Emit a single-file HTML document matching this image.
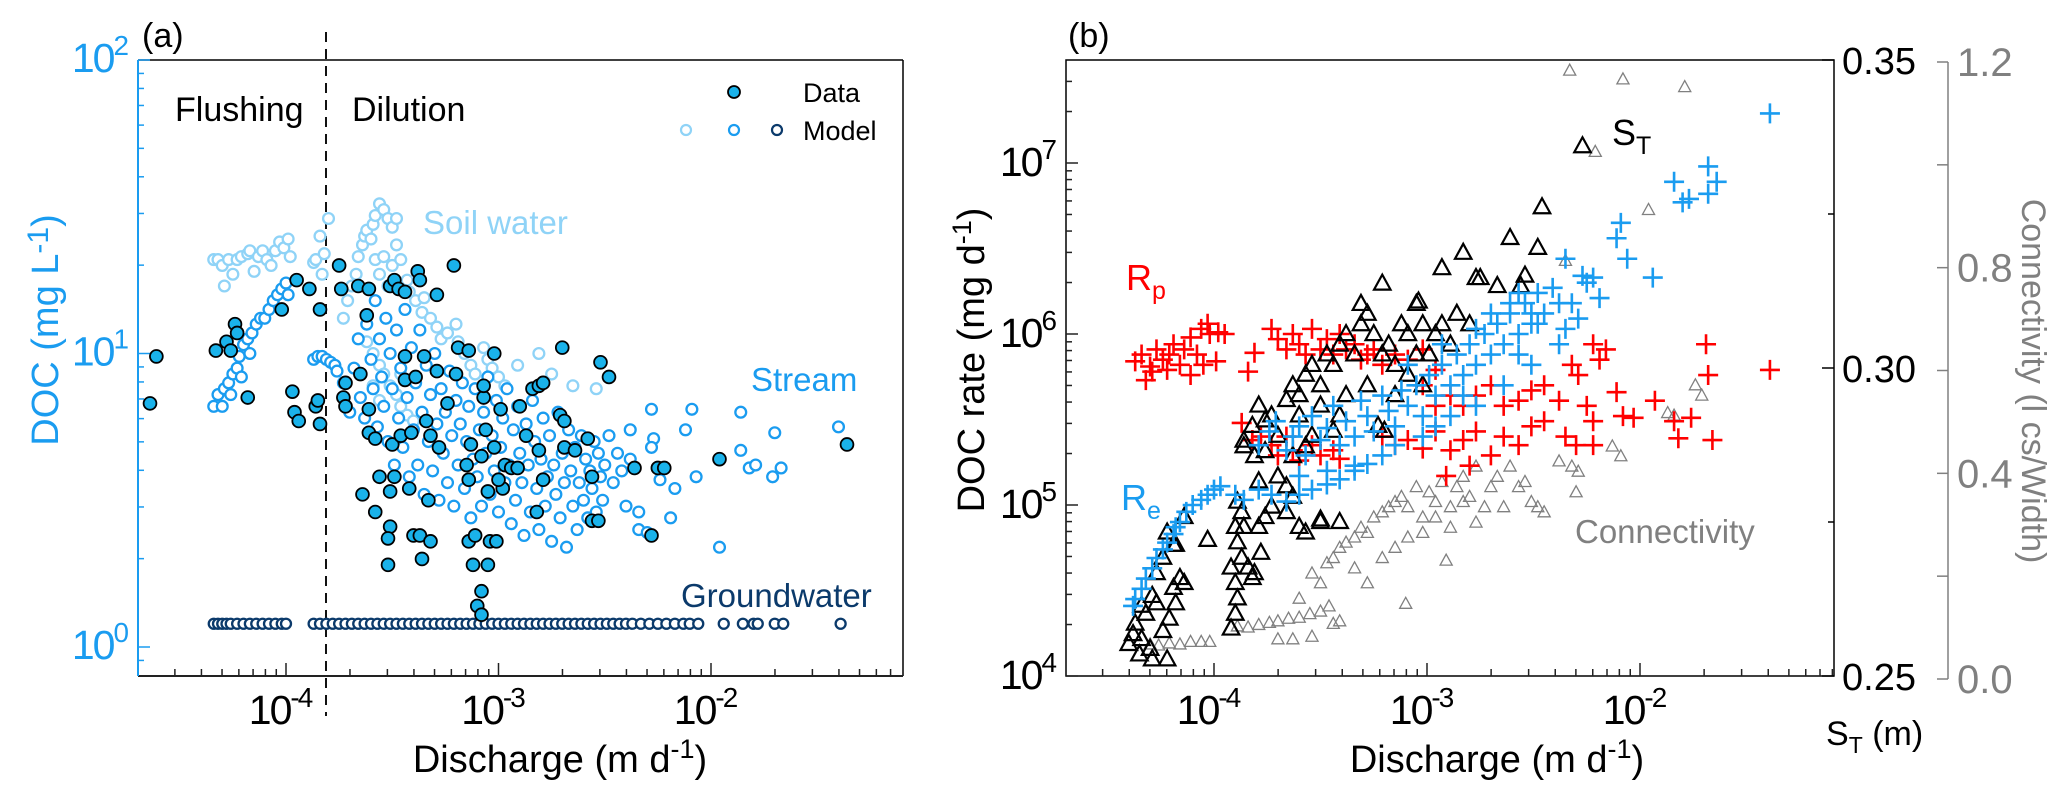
<!DOCTYPE html>
<html><head><meta charset="utf-8">
<style>
html,body{margin:0;padding:0;background:#fff;}
svg{display:block;font-family:"Liberation Sans",Arial,sans-serif;}
</style></head>
<body>
<svg id="fig" width="2067" height="795" viewBox="0 0 2067 795" xmlns="http://www.w3.org/2000/svg">
<g id="panelA"></g>
<g id="panelB"></g>
</svg>
<script>
// ---------- Panel (a) data (log10 discharge m/d, log10 DOC mg/L) ----------
const dataLogQ=[-4.64,-4.61,-4.33,-4.28,-4.26,-4.24,-4.23,-4.18,-4.02,-3.97,-3.96,-3.94,-3.95,-3.89,-3.86,-3.85,-3.84,-3.84,-3.75,-3.74,-3.72,-3.73,-3.72,-3.66,-3.65,-3.62,-3.61,-3.61,-3.61,-3.58,-3.64,-3.58,-3.56,-3.50,-3.49,-3.51,-3.51,-3.52,-3.52,-3.51,-3.49,-3.47,-3.44,-3.44,-3.44,-3.46,-3.42,-3.40,-3.37,-3.36,-3.32,-3.41,-3.39,-3.38,-3.37,-3.35,-3.34,-3.33,-3.32,-3.29,-3.29,-3.28,-3.24,-3.21,-3.20,-3.19,-3.15,-3.14,-3.13,-3.14,-3.14,-3.11,-3.12,-3.05,-3.08,-3.10,-3.08,-3.07,-3.07,-3.08,-3.06,-3.04,-3.01,-3.05,-3.02,-3.02,-2.99,-2.98,-3.00,-2.97,-2.94,-2.91,-2.90,-2.87,-2.84,-2.81,-2.81,-2.79,-2.82,-2.79,-2.71,-2.69,-2.70,-2.69,-2.64,-2.58,-2.56,-2.53,-2.52,-2.48,-2.56,-2.36,-2.25,-2.22,-2.28,-1.96,-1.36];
const dataLogDOC=[0.83,0.99,1.01,1.04,1.01,1.10,1.07,0.85,1.15,0.87,0.80,0.77,1.25,1.22,0.82,0.84,1.15,0.76,1.30,1.22,0.90,0.85,0.82,1.23,0.93,1.13,1.22,0.81,0.73,0.71,0.52,0.46,0.58,0.69,0.58,0.53,0.41,0.37,0.28,1.23,1.25,1.22,1.21,0.91,0.99,0.72,0.54,0.38,0.38,0.30,0.36,0.73,0.92,1.28,1.25,0.99,0.77,0.50,0.72,1.20,0.94,0.68,0.83,1.30,0.93,1.02,0.62,0.57,0.69,1.01,0.36,0.38,0.28,0.28,0.19,0.14,0.11,0.85,0.89,0.65,0.74,0.36,0.36,0.53,0.68,1.00,0.81,0.54,0.57,0.62,0.61,0.61,0.82,0.72,0.88,0.67,0.89,0.90,0.46,0.57,0.79,0.77,1.02,0.68,0.67,0.71,0.43,0.43,0.97,0.92,0.58,0.61,0.61,0.61,0.38,0.64,0.69];
const soilLogQ=[-4.34,-4.32,-4.30,-4.29,-4.27,-4.25,-4.23,-4.21,-4.18,-4.17,-4.15,-4.13,-4.11,-4.09,-4.07,-4.05,-4.03,-4.01,-3.99,-3.98,-3.87,-3.86,-3.84,-3.83,-3.82,-3.80,-3.73,-3.71,-3.69,-3.67,-3.66,-3.64,-3.63,-3.62,-3.60,-3.59,-3.58,-3.56,-3.54,-3.52,-3.50,-3.48,-3.58,-3.56,-3.54,-3.52,-3.50,-3.48,-3.46,-3.43,-3.42,-3.39,-3.36,-3.35,-3.32,-3.29,-3.27,-3.24,-3.20,-3.19,-3.16,-3.13,-3.11,-3.07,-3.05,-3.03,-3.00,-2.97,-3.62,-3.59,-3.56,-3.54,-3.51,-3.48,-3.46,-3.43,-3.40,-3.59,-3.56,-3.46,-2.91,-2.75,-2.65,-2.54,-2.81];
const soilLogDOC=[1.32,1.32,1.30,1.23,1.32,1.27,1.32,1.33,1.34,1.35,1.28,1.33,1.35,1.32,1.30,1.35,1.38,1.36,1.39,1.33,1.31,1.32,1.40,1.27,1.34,1.46,1.12,1.18,1.23,1.27,1.33,1.37,1.40,1.42,1.39,1.44,1.47,1.51,1.49,1.46,1.43,1.46,1.32,1.27,1.33,1.23,1.30,1.37,1.32,1.25,1.21,1.18,1.14,1.19,1.12,1.09,1.05,1.07,1.10,1.04,1.00,0.96,0.93,1.02,0.98,0.95,0.92,0.89,1.04,1.00,0.96,0.93,0.89,0.86,0.82,0.79,0.77,0.89,0.84,0.93,0.96,0.93,0.89,0.88,1.00];
const streamLogQ=[-4.34,-4.32,-4.30,-4.29,-4.27,-4.25,-4.23,-4.22,-4.20,-4.18,-4.16,-4.14,-4.12,-4.10,-4.08,-4.06,-4.04,-4.02,-4.00,-3.99,-4.26,-4.21,-4.17,-3.87,-3.85,-3.83,-3.81,-3.79,-3.77,-3.76,
-3.73,-3.70,-3.68,-3.66,-3.65,-3.63,-3.62,-3.60,-3.59,-3.58,-3.57,-3.56,-3.55,-3.54,-3.53,-3.52,-3.51,-3.50,-3.49,-3.48,-3.47,-3.46,-3.45,-3.44,-3.43,-3.42,-3.41,-3.40,-3.39,-3.38,-3.37,-3.36,-3.35,-3.34,-3.33,-3.32,-3.31,-3.30,-3.29,-3.28,-3.27,-3.26,-3.25,-3.24,-3.23,-3.22,-3.21,-3.20,-3.19,-3.18,-3.17,-3.16,-3.15,-3.14,-3.13,-3.12,-3.11,-3.10,-3.09,-3.08,-3.07,-3.06,-3.05,-3.04,-3.03,-3.02,-3.01,-3.00,-2.99,-2.98,-2.97,-2.96,-2.95,-2.94,-2.93,-2.92,-2.91,-2.90,-2.89,-2.88,-2.87,-2.86,-2.85,-2.84,-2.83,-2.82,-2.81,-2.80,-2.79,-2.78,-2.77,-2.76,-2.75,-2.74,-2.73,-2.72,-2.71,-2.70,-2.69,-2.68,-2.67,-2.66,-2.65,-2.64,-2.63,-2.62,-2.61,-2.60,-2.59,-2.58,-2.57,-2.56,-2.55,-2.54,-2.53,-2.52,-2.51,-2.50,-2.48,-2.46,-2.44,-2.42,-2.40,-2.38,
-2.38,-2.28,-2.27,-2.28,-2.34,-2.34,-2.30,-2.24,-2.19,-2.17,-2.12,-2.09,-2.07,-1.96,-1.86,-1.86,-1.82,-1.79,-1.70,-1.71,-1.67,-1.40];
const streamLogDOC=[0.82,0.86,0.82,0.88,0.90,0.93,0.95,0.99,1.03,1.05,1.07,1.10,1.12,1.12,1.15,1.18,1.20,1.22,1.24,1.20,0.86,0.92,1.00,0.98,0.99,0.99,0.98,0.97,0.96,0.94,
0.90,0.80,0.95,1.05,0.85,0.78,1.10,0.98,0.88,1.18,0.75,1.05,0.92,0.82,1.12,0.70,1.00,0.88,0.62,1.08,0.78,0.95,0.68,1.15,0.85,0.58,1.02,0.74,0.90,0.62,1.08,0.80,0.52,0.96,0.70,0.86,0.60,1.00,0.76,0.50,0.88,0.66,0.80,0.56,0.94,0.72,0.48,0.84,0.62,0.76,0.90,0.54,0.70,0.82,0.44,0.64,0.88,0.58,0.74,0.48,0.80,0.66,0.92,0.52,0.72,0.60,0.84,0.46,0.68,0.78,0.56,0.88,0.62,0.42,0.74,0.50,0.82,0.66,0.56,0.38,0.76,0.62,0.46,0.84,0.70,0.54,0.40,0.64,0.78,0.48,0.58,0.72,0.36,0.62,0.52,0.80,0.44,0.66,0.56,0.34,0.74,0.60,0.48,0.68,0.40,0.56,0.72,0.50,0.64,0.44,0.60,0.54,0.70,0.46,0.66,0.58,0.50,0.62,0.72,0.56,0.66,0.60,0.48,0.64,
0.74,0.81,0.71,0.68,0.46,0.40,0.39,0.57,0.44,0.54,0.74,0.81,0.58,0.34,0.67,0.80,0.61,0.62,0.73,0.58,0.61,0.75];
const gwLogQ=[-4.34,-4.32,-4.30,-4.28,-4.26,-4.23,-4.20,-4.17,-4.14,-4.11,-4.08,-4.05,-4.02,-4.00,-3.87,-3.84,-3.81,-3.78,-3.75,-3.72,-3.69,-3.66,-3.63,-3.60,-3.57,-3.54,-3.51,-3.48,-3.45,-3.42,-3.39,-3.36,-3.33,-3.30,-3.27,-3.24,-3.21,-3.18,-3.15,-3.12,-3.09,-3.06,-3.03,-3.00,-2.97,-2.94,-2.91,-2.88,-2.85,-2.82,-2.79,-2.76,-2.73,-2.70,-2.67,-2.64,-2.61,-2.58,-2.55,-2.52,-2.49,-2.46,-2.43,-2.40,-2.37,-2.33,-2.29,-2.25,-2.21,-2.17,-2.13,-2.10,-2.06,-1.94,-1.85,-1.80,-1.78,-1.70,-1.66,-1.39];
const gwDOC=[1.2];
const aXTicks=[-4,-3,-2];
const aXTickLabels=["-4","-3","-2"];
const aYTicks=[0,1,2];
const aYTickLabels=["0","1","2"];

// ---------- Panel (b) data ----------
const reLogQ=[-4.38,-4.37,-4.34,-4.32,-4.29,-4.27,-4.24,-4.22,-4.19,-4.18,-4.16,-4.13,-4.10,-4.06,-4.03,-4.00,-3.97,-3.90,-3.86,-3.79,-3.73,-3.66,-3.60,-3.54,-3.47,-3.41,-3.34,-3.28,
-3.79,-3.74,-3.71,-3.66,-3.63,-3.60,-3.57,-3.54,-3.50,-3.47,-3.44,-3.41,-3.38,-3.34,-3.31,-3.28,-3.25,-3.21,-3.18,-3.15,-3.12,-3.09,-3.05,-3.02,-2.99,-2.96,-2.93,-2.89,-2.86,-2.83,-2.80,-2.77,-2.73,-2.70,-2.67,-2.64,-2.61,-2.57,-2.54,-2.51,-2.48,-2.45,-2.41,-2.38,-3.15,-3.02,-2.89,-2.77,-2.64,-2.51,-2.38,-3.09,-2.93,-2.77,-2.61,-3.21,-3.34,-3.47,-3.60,-2.70,-2.57,-2.96,-2.83,
-2.35,-2.32,-2.27,-2.25,-2.22,-2.19,-2.11,-2.06,-2.09,-1.94,-1.84,-1.80,-1.77,-1.68,-1.64,-1.68,-1.39,-2.35,-2.29,-2.51,-2.48,-2.57];
const reLogRate=[4.41,4.45,4.51,4.57,4.63,4.69,4.74,4.78,4.83,4.87,4.90,4.96,5.00,5.03,5.06,5.09,5.11,5.06,5.03,5.09,5.06,5.02,5.06,5.09,5.12,5.15,5.20,5.24,
5.35,5.43,5.49,5.32,5.40,5.46,5.29,5.52,5.38,5.45,5.58,5.35,5.49,5.40,5.61,5.52,5.43,5.64,5.55,5.46,5.67,5.58,5.70,5.52,5.76,5.64,5.82,5.70,5.88,5.76,5.94,5.82,6.00,5.88,6.06,5.94,6.12,6.00,6.18,6.06,6.24,6.12,6.27,6.18,5.35,5.40,5.52,5.58,5.70,5.82,5.94,5.82,5.94,6.03,6.18,5.29,5.23,5.20,5.17,6.12,5.88,5.46,5.64,
6.44,6.18,6.34,6.30,6.33,6.21,6.56,6.44,6.65,6.33,6.89,6.77,6.79,6.98,6.89,6.82,7.29,6.03,6.09,6.12,6.06,6.24];
const rpLogQ=[-4.37,-4.34,-4.30,-4.32,-4.27,-4.24,-4.21,-4.19,-4.16,-4.14,-4.11,-4.08,-4.05,-4.06,-4.03,-4.02,-3.98,-3.95,-3.99,-4.11,-4.29,-4.22,-3.81,-3.84,
-3.73,-3.70,-3.66,-3.63,-3.60,-3.57,-3.54,-3.50,-3.47,-3.44,-3.41,-3.38,-3.34,-3.31,-3.28,-3.25,-3.21,-3.15,-3.09,-3.02,-2.96,
-3.87,-3.82,-3.78,-3.73,-3.70,-3.66,-3.63,-3.60,-3.54,-3.50,-3.44,-3.41,
-3.21,-3.15,-3.09,-3.02,-2.96,-2.89,-2.83,-2.77,-2.70,-2.64,-2.57,-2.51,-2.77,-2.70,-2.64,-2.57,-2.51,-2.45,-2.96,-2.89,-2.83,-3.02,-2.80,-2.91,-2.45,-2.38,-2.32,-2.29,-2.35,-2.30,-2.22,-2.19,-2.16,-2.11,-2.08,-2.03,-1.93,-1.84,-1.76,-1.82,-1.66,-1.69,-1.68,-1.39,-2.22,-2.25,-2.22];
const rpLogRate=[5.84,5.88,5.81,5.73,5.91,5.85,5.88,5.94,5.82,5.91,5.98,5.88,5.82,6.03,6.06,6.00,6.01,6.00,5.84,5.76,5.78,5.79,5.89,5.78,
6.03,5.97,5.91,6.00,5.94,5.88,6.03,5.91,5.97,5.88,6.00,5.91,5.94,5.85,5.88,5.91,5.82,5.88,5.85,5.91,5.79,
5.48,5.38,5.40,5.35,5.29,5.40,5.32,5.26,5.35,5.29,5.32,5.27,
5.40,5.35,5.38,5.33,5.43,5.32,5.38,5.43,5.29,5.40,5.35,5.46,5.64,5.70,5.58,5.61,5.67,5.70,5.58,5.64,5.58,5.70,5.23,5.17,5.49,5.61,5.82,5.76,5.40,5.35,5.94,5.85,5.91,5.66,5.52,5.51,5.61,5.49,5.51,5.39,5.38,5.94,5.76,5.79,5.35,5.58,5.49];
const stLogQ=[-4.40,-4.38,-4.37,-4.35,-4.34,-4.32,-4.30,-4.29,-4.27,-4.24,-4.22,-4.21,-4.19,-4.18,-4.16,-4.14,-4.19,-4.18,-4.14,-4.22,-4.24,-4.27,-4.29,-4.34,-4.03,
-3.92,-3.90,-3.89,-3.90,-3.92,-3.87,-3.89,-3.90,-3.86,-3.89,-3.87,-3.84,-3.82,-3.81,-3.78,-3.79,-3.76,
-3.70,-3.66,-3.63,-3.60,-3.57,-3.66,-3.73,-3.50,-3.79,-3.86,-3.82,-3.79,-3.76,-3.73,-3.70,-3.66,-3.63,-3.60,-3.57,-3.54,-3.50,-3.47,-3.44,-3.41,-3.38,-3.34,-3.31,-3.28,-3.25,-3.21,-3.18,-3.15,-3.12,-3.09,-3.05,-3.02,-2.99,-2.96,-2.93,-2.89,-2.86,-3.31,-3.21,-3.05,-3.04,-2.93,-2.83,-2.77,-2.75,-2.67,-2.61,-2.56,-2.54,-2.48,-2.46,-2.80,-3.50,-3.44,-3.38,-3.60,-3.54,-3.41,-3.28,-3.15,-3.09,-3.02,-3.41,-3.50,-3.23,-3.20,-3.63,-3.57,-3.76,-3.86,-3.81,-2.27];
const stDepth=[0.2552,0.2568,0.2585,0.2535,0.2560,0.2601,0.2544,0.2527,0.2618,0.2573,0.2527,0.2593,0.2643,0.2618,0.2659,0.2651,0.2713,0.2713,0.2758,0.2733,0.2692,0.2667,0.2630,0.2614,0.2721,
0.2577,0.2601,0.2626,0.2651,0.2676,0.2692,0.2717,0.2742,0.2742,0.2783,0.2766,0.2676,0.2659,0.2667,0.2700,0.2742,0.2758,
0.2824,0.2808,0.2791,0.2742,0.2733,0.2766,0.2775,0.2754,0.2816,0.2873,0.2906,0.2939,0.2915,0.2923,0.2890,0.2948,0.2972,0.2956,0.2989,0.3005,0.2972,0.3022,0.3005,0.3038,0.3055,0.3022,0.3071,0.3088,0.3055,0.3022,0.3038,0.3005,0.3071,0.3055,0.3022,0.3071,0.3022,0.3055,0.3071,0.3038,0.3088,0.3104,0.3137,0.3104,0.3108,0.3162,0.3187,0.3146,0.3146,0.3133,0.3211,0.3133,0.3150,0.3195,0.3261,0.3071,0.2939,0.2898,0.2956,0.2923,0.2890,0.2923,0.2972,0.2956,0.2989,0.2972,0.2750,0.2750,0.2906,0.2898,0.2857,0.2873,0.2865,0.2882,0.2857,0.3360];
const connLogQ=[-4.30,-4.26,-4.21,-4.16,-4.11,-4.06,-4.02,-3.89,-3.84,-3.79,-3.74,-3.70,-3.65,-3.60,-3.55,-3.50,-3.46,-3.41,-3.44,-3.63,-3.54,-3.70,
-3.60,-3.54,-3.50,-3.47,-3.44,-3.41,-3.38,-3.34,-3.31,-3.28,-3.25,-3.21,-3.18,-3.15,-3.12,-3.09,-3.05,-3.02,-2.99,-2.96,-2.93,-2.89,-2.86,-2.83,-2.80,-2.77,-2.73,-2.70,-2.67,-2.64,-2.61,-2.57,-2.54,-2.51,-2.48,-2.45,-3.34,-3.28,-3.21,-3.15,-3.09,-3.02,-2.96,-2.89,-2.83,-3.10,-2.91,-2.77,-2.38,-2.32,-2.29,-2.30,-2.13,-2.09,-2.35,-1.96,-1.74,-1.71,-1.87,-1.84,-2.33,-2.08,-1.79,-2.21];
const connValue=[0.067,0.065,0.069,0.067,0.072,0.072,0.072,0.102,0.100,0.105,0.109,0.112,0.117,0.119,0.126,0.131,0.141,0.112,0.107,0.077,0.082,0.077,
0.156,0.205,0.186,0.225,0.235,0.255,0.265,0.275,0.294,0.284,0.314,0.324,0.334,0.344,0.354,0.334,0.373,0.314,0.363,0.344,0.383,0.294,0.373,0.393,0.354,0.413,0.334,0.373,0.393,0.334,0.413,0.373,0.383,0.344,0.334,0.324,0.215,0.186,0.235,0.255,0.275,0.284,0.314,0.334,0.344,0.146,0.230,0.304,0.423,0.413,0.403,0.363,0.452,0.433,0.813,0.912,0.571,0.551,0.517,0.512,1.183,1.166,1.151,1.025];
const bXTicks=[-4,-3,-2];
const bXTickLabels=["-4","-3","-2"];
const bYTicks=[4,5,6,7];
const bYTickLabels=["4","5","6","7"];
const stTicks=[0.25,0.30,0.35];
const stTickLabels=["0.25","0.30","0.35"];
const connTicks=[0,0.4,0.8,1.2];
const connTickLabels=["0.0","0.4","0.8","1.2"];

// ---------- drawing ----------
const NS="http://www.w3.org/2000/svg";
const BLUE="#1a9cf0", LIGHT="#8fd3f7", NAVY="#0b3a6b", FILLD="#1ab2ea", GRAY="#808080";
function mk(parent,tag,attrs,name,inter){
  const el=document.createElementNS(NS,tag);
  for(const k in attrs) el.setAttribute(k,attrs[k]);
  
  
  parent.appendChild(el);
  return el;
}
function txt(parent,x,y,str,size,color,name,anchor,extra){
  const t=mk(parent,'text',Object.assign({x:x,y:y,'font-size':size,fill:color,'text-anchor':anchor||'start'},extra||{}),name,false);
  t.textContent=str;return t;
}
function pow10(parent,x,y,exp,size,color,name,anchor){
  const t=mk(parent,'text',{x:x,y:y,'font-size':size,fill:color,'text-anchor':anchor||'middle','letter-spacing':'-2'},name,false);
  const a=document.createElementNS(NS,'tspan');a.textContent='10';t.appendChild(a);
  const b=document.createElementNS(NS,'tspan');b.setAttribute('dy',-size*0.42);b.setAttribute('font-size',size*0.68);b.textContent=exp;t.appendChild(b);
  return t;
}
function withSup(t,main,sup,tail,dy,supSize){
  const a=document.createElementNS(NS,'tspan');a.textContent=main;t.appendChild(a);
  const b=document.createElementNS(NS,'tspan');b.setAttribute('dy',-dy);b.setAttribute('font-size',supSize);b.textContent=sup;t.appendChild(b);
  const c=document.createElementNS(NS,'tspan');c.setAttribute('dy',dy);c.textContent=tail;t.appendChild(c);
}

// ---- Panel A ----
const A=document.getElementById('panelA');
const aL=138,aR=903,aT=60,aB=676;
const ax=l=>286+(l+4)*212.5;
const ay=l=>647-l*293.5;
mk(A,'line',{x1:aL,y1:aT,x2:aR,y2:aT,stroke:'#000','stroke-width':1.5},'top-spine-a',false);
mk(A,'line',{x1:aR,y1:aT,x2:aR,y2:aB,stroke:'#000','stroke-width':1.5},'right-spine-a',false);
mk(A,'line',{x1:aL,y1:aB,x2:aR,y2:aB,stroke:'#222','stroke-width':2},'x-axis-a',false);
mk(A,'line',{x1:aL,y1:aT,x2:aL,y2:aB,stroke:BLUE,'stroke-width':2},'y-axis-a',false);
for(let d=-5;d<=-1;d++){for(let m=1;m<=9;m++){const l=d+Math.log10(m);const x=ax(l);if(x<=aL+2||x>=aR-1)continue;
  mk(A,'line',{x1:x,y1:aB,x2:x,y2:aB-(m===1?13:7),stroke:'#222','stroke-width':1.5},m===1?'x-major-tick-a':'x-minor-tick-a',false);}}
aXTicks.forEach((t,i)=>pow10(A,ax(t)-6,724,aXTickLabels[i],41,'#000','x-tick-label-a'));
for(let d=-1;d<=2;d++){for(let m=1;m<=9;m++){const l=d+Math.log10(m);const y=ay(l);if(y<aT-1||y>aB-2)continue;
  mk(A,'line',{x1:aL,y1:y,x2:aL+(m===1?12:6),y2:y,stroke:BLUE,'stroke-width':1.5},m===1?'y-major-tick-a':'y-minor-tick-a',false);}}
aYTicks.forEach((t,i)=>pow10(A,127,ay(t)+12,aYTickLabels[i],41,BLUE,'y-tick-label-a','end'));
const yt=txt(A,0,0,'',38,BLUE,'y-axis-title-a','middle',{transform:'translate(58,330) rotate(-90)'});
withSup(yt,'DOC (mg  L','-1',')',10,30);
const xa=txt(A,560,772,'',38,'#000','x-axis-title-a','middle');
withSup(xa,'Discharge  (m d','-1',')',14,27);
txt(A,142,47,'(a)',34,'#000','panel-label-a');
mk(A,'line',{x1:326,y1:32,x2:326,y2:716,stroke:'#111','stroke-width':2,'stroke-dasharray':'10,7'},'threshold-dashed-line',false);
txt(A,175,121,'Flushing',34,'#000','flushing-label');
txt(A,352,121,'Dilution',34,'#000','dilution-label');
soilLogQ.forEach((q,i)=>{mk(A,'circle',{cx:ax(q),cy:ay(soilLogDOC[i]),r:5.4,fill:'#fff',stroke:LIGHT,'stroke-width':2.3},'soil-water-point',false);});
streamLogQ.forEach((q,i)=>{mk(A,'circle',{cx:ax(q),cy:ay(streamLogDOC[i]),r:5.4,fill:'#fff',stroke:BLUE,'stroke-width':2.3},'stream-point',false);});
gwLogQ.forEach(q=>{mk(A,'circle',{cx:ax(q),cy:ay(Math.log10(gwDOC[0])),r:5,fill:'#fff',stroke:NAVY,'stroke-width':2.3},'groundwater-point',false);});
dataLogQ.forEach((q,i)=>{mk(A,'circle',{cx:ax(q),cy:ay(dataLogDOC[i]),r:6.4,fill:FILLD,stroke:'#000','stroke-width':1.8},'data-point',false);});
txt(A,423,234,'Soil water',33,LIGHT,'soil-water-label');
txt(A,751,391,'Stream',33,BLUE,'stream-label');
txt(A,681,607,'Groundwater',33,NAVY,'groundwater-label');
mk(A,'circle',{cx:734,cy:92,r:6,fill:FILLD,stroke:'#000','stroke-width':1.8},'legend-data-marker',false);
txt(A,803,102,'Data',27,'#000','legend-data-text');
mk(A,'circle',{cx:686,cy:130,r:5,fill:'#fff',stroke:LIGHT,'stroke-width':2.2},'legend-soil-marker',false);
mk(A,'circle',{cx:734,cy:130,r:5,fill:'#fff',stroke:BLUE,'stroke-width':2.2},'legend-stream-marker',false);
mk(A,'circle',{cx:777,cy:130,r:5,fill:'#fff',stroke:NAVY,'stroke-width':2.2},'legend-groundwater-marker',false);
txt(A,803,140,'Model',27,'#000','legend-model-text');

// ---- Panel B ----
const B=document.getElementById('panelB');
const bL=1066,bR=1834,bT=60,bB=676;
const bx=l=>1214+(l+4)*213;
const by=l=>676-(l-4)*171;
const sty=v=>676-(v-0.25)/0.1*616;
const cyv=v=>679-v/1.2*617;
mk(B,'rect',{x:bL,y:bT,width:bR-bL,height:bB-bT,fill:'none',stroke:'#000','stroke-width':1.5},'plot-frame-b',false);
for(let d=-5;d<=-1;d++){for(let m=1;m<=9;m++){const l=d+Math.log10(m);const x=bx(l);if(x<=bL+2||x>=bR-1)continue;
  mk(B,'line',{x1:x,y1:bB,x2:x,y2:bB-(m===1?13:7),stroke:'#222','stroke-width':1.5},m===1?'x-major-tick-b':'x-minor-tick-b',false);}}
bXTicks.forEach((t,i)=>pow10(B,bx(t)-6,724,bXTickLabels[i],41,'#000','x-tick-label-b'));
for(let d=4;d<=7;d++){for(let m=1;m<=9;m++){const l=d+Math.log10(m);const y=by(l);if(y<bT+1||y>bB)continue;
  mk(B,'line',{x1:bL,y1:y,x2:bL+(m===1?12:6),y2:y,stroke:'#222','stroke-width':1.5},m===1?'y-major-tick-b':'y-minor-tick-b',false);}}
bYTicks.forEach((t,i)=>pow10(B,1055,by(t)+13,bYTickLabels[i],41,'#000','y-tick-label-b','end'));
stTicks.forEach((t,i)=>{mk(B,'line',{x1:bR-12,y1:sty(t),x2:bR,y2:sty(t),stroke:'#000','stroke-width':1.5},'st-major-tick',false);
  txt(B,1842,sty(t)+14,stTickLabels[i],38,'#000','st-tick-label');});
[0.275,0.325].forEach(t=>mk(B,'line',{x1:bR-6,y1:sty(t),x2:bR,y2:sty(t),stroke:'#000','stroke-width':1.5},'st-minor-tick',false));
mk(B,'line',{x1:1948,y1:cyv(1.2),x2:1948,y2:cyv(0),stroke:GRAY,'stroke-width':1.5},'connectivity-axis',false);
[0,0.2,0.4,0.6,0.8,1.0,1.2].forEach(t=>mk(B,'line',{x1:1937,y1:cyv(t),x2:1948,y2:cyv(t),stroke:GRAY,'stroke-width':1.5},'connectivity-tick',false));
connTicks.forEach((t,i)=>txt(B,1957,cyv(t)+14,connTickLabels[i],40,GRAY,'connectivity-tick-label'));
txt(B,0,0,'Connectivity  (l cs/Width)',34,GRAY,'connectivity-axis-title','middle',{transform:'translate(2022,381) rotate(90)'});
const stt=txt(B,1826,745,'',34,'#000','st-axis-title');
(function(){const a=document.createElementNS(NS,'tspan');a.textContent='S';stt.appendChild(a);
const b=document.createElementNS(NS,'tspan');b.setAttribute('dy','8');b.setAttribute('font-size','23');b.textContent='T';stt.appendChild(b);
const c=document.createElementNS(NS,'tspan');c.setAttribute('dy','-8');c.textContent=' (m)';stt.appendChild(c);})();
const ybt=txt(B,0,0,'',38,'#000','y-axis-title-b','middle',{transform:'translate(984,360) rotate(-90)'});
withSup(ybt,'DOC rate (mg d','-1',')',13,27);
const xbt=txt(B,1497,772,'',38,'#000','x-axis-title-b','middle');
withSup(xbt,'Discharge (m d','-1',')',14,27);
txt(B,1068,47,'(b)',34,'#000','panel-label-b');
function tri(x,y,s,col,sw,name){
  mk(B,'path',{d:`M${x},${y-s*0.6}L${x+s*0.55},${y+s*0.4}L${x-s*0.55},${y+s*0.4}Z`,fill:'none',stroke:col,'stroke-width':sw,'stroke-linejoin':'miter'},name,false);
}
function plus(x,y,s,col,name){
  mk(B,'path',{d:`M${x-s},${y}H${x+s}M${x},${y-s}V${y+s}`,stroke:col,'stroke-width':2.6,fill:'none'},name,false);
}
connLogQ.forEach((q,i)=>tri(bx(q),cyv(connValue[i]),11,GRAY,1.3,'connectivity-point'));
rpLogQ.forEach((q,i)=>plus(bx(q),by(rpLogRate[i]),10,'#ff0000','rp-point'));
stLogQ.forEach((q,i)=>tri(bx(q),sty(stDepth[i]),15,'#000',2.2,'st-point'));
reLogQ.forEach((q,i)=>plus(bx(q),by(reLogRate[i]),10,BLUE,'re-point'));
function sublabel(x,y,main,sub,col,name){
  const t=txt(B,x,y,'',36,col,name);
  const a=document.createElementNS(NS,'tspan');a.textContent=main;t.appendChild(a);
  const b=document.createElementNS(NS,'tspan');b.setAttribute('dy','9');b.setAttribute('font-size','25');b.textContent=sub;t.appendChild(b);
}
sublabel(1126,290,'R','p','#ff0000','rp-label');
sublabel(1121,510,'R','e',BLUE,'re-label');
sublabel(1612,145,'S','T','#000','st-label');
txt(B,1575,543,'Connectivity',33,GRAY,'connectivity-label');
</script>
</body></html>
